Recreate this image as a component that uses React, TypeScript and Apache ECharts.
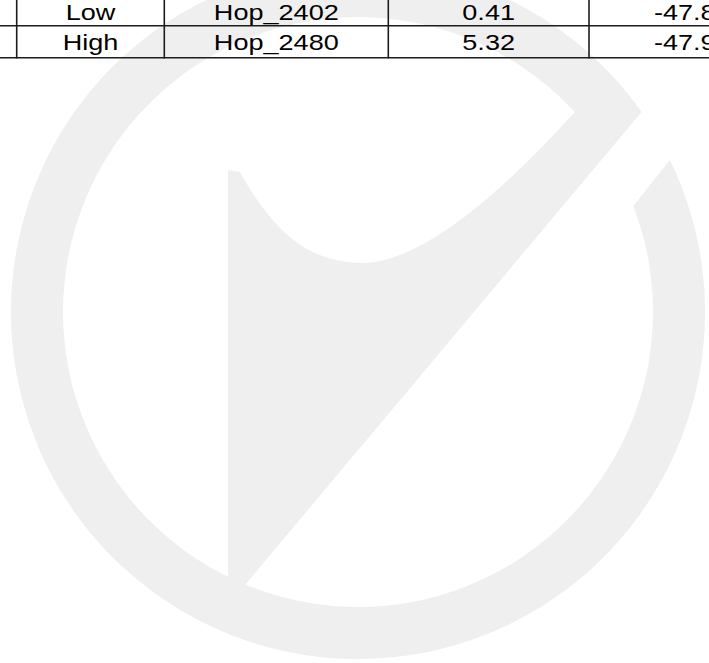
import React, { useEffect, useRef } from "react";
import * as echarts from "echarts";

// ---- table data (visible part of the reference) ----
const rowLabels = ["Low", "High"];
const hopNames = ["Hop_2402", "Hop_2480"];
const gains = [0.41, 5.32];
const levels = ["-47.8", "-47.9"];

// ---- layout ----
const W = 709;
const H = 663;
const colLines = [16.7, 164.3, 388.3, 589];
const rowLines = [25.7, 57.7];
const rowCenters = [12.8, 42.8];
const lastColX = 654;
const FONT = "'Liberation Sans', Arial, Helvetica, sans-serif";
const FS = 22;
const SX = 1.23;
const LINE = "#1c1c1c";
const WM = "#efefef";

// ---- watermark geometry ----
const CX = 358, CY = 312, RO = 347, RI = 295;
const xOn = (r: number, y: number) => CX + Math.sqrt(r * r - (y - CY) * (y - CY));
const tipY = 112, cutOuterY = 160, cutInnerY = 206;
const oStart = xOn(RO, tipY);
const oEnd = xOn(RO, cutOuterY);
const iCut = xOn(RI, cutInnerY);
const iStart = xOn(RI, tipY);

const ringD =
  `M ${oStart} ${tipY} A ${RO} ${RO} 0 1 0 ${oEnd} ${cutOuterY} ` +
  `L ${iCut} ${cutInnerY} A ${RI} ${RI} 0 1 1 ${iStart} ${tipY} Z`;

const checkD =
  `M 228 170 L 240 172 C 275 235 310 262 362 263 C 420 263 500 195 ${iStart} ${tipY} ` +
  `L ${oStart} ${tipY} L 245 585 L 228 578 Z`;

echarts.graphic.registerShape("wmRing", echarts.graphic.extendPath(ringD, {}));
echarts.graphic.registerShape("wmCheck", echarts.graphic.extendPath(checkD, {}));

function cellText(text: string, x: number, y: number, align: string) {
  return {
    type: "group",
    x,
    y,
    scaleX: SX,
    z: 10,
    children: [
      {
        type: "text",
        z: 10,
        style: {
          text,
          x: 0,
          y: 0,
          align,
          verticalAlign: "middle",
          fontSize: FS,
          fontFamily: FONT,
          fill: "#000000",
        },
      },
    ],
  };
}

export default function App() {
  const ref = useRef<HTMLDivElement>(null);
  useEffect(() => {
    if (!ref.current) return;
    const chart = echarts.init(ref.current, null, { renderer: "svg", width: W, height: H });
    const els: any[] = [];
    els.push({ type: "wmRing", x: 0, y: 0, z: 0, style: { fill: WM } });
    els.push({ type: "wmCheck", x: 0, y: 0, z: 0, style: { fill: WM } });
    // grid lines
    colLines.forEach((x) =>
      els.push({
        type: "line",
        z: 5,
        shape: { x1: x, y1: -10, x2: x, y2: rowLines[rowLines.length - 1] + 0.8 },
        style: { stroke: LINE, lineWidth: 1.6 },
      })
    );
    rowLines.forEach((y) =>
      els.push({
        type: "line",
        z: 5,
        shape: { x1: 0, y1: y, x2: W, y2: y },
        style: { stroke: LINE, lineWidth: 1.6 },
      })
    );
    const c1 = (colLines[0] + colLines[1]) / 2;
    const c2 = (colLines[1] + colLines[2]) / 2;
    const c3 = (colLines[2] + colLines[3]) / 2;
    rowLabels.forEach((lab, i) => {
      const y = rowCenters[i];
      els.push(cellText(lab, c1, y, "center"));
      els.push(cellText(hopNames[i], c2, y, "center"));
      els.push(cellText(gains[i].toFixed(2), c3, y, "center"));
      els.push(cellText(levels[i], lastColX, y, "left"));
    });
    chart.setOption({ animation: false, graphic: { elements: els } });
    return () => chart.dispose();
  }, []);
  return (
    <div
      ref={ref}
      style={{ position: "fixed", left: 0, top: 0, width: W, height: H, background: "#ffffff" }}
    />
  );
}
